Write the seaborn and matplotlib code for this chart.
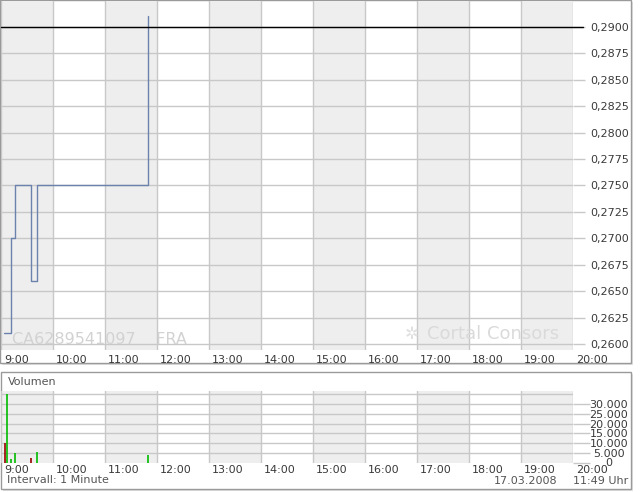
import matplotlib
matplotlib.use("Agg")
import matplotlib.pyplot as plt
import matplotlib.transforms as mtransforms
from matplotlib.patches import Rectangle
import seaborn as sns
import pandas as pd

# ---- data ----
price_times = ["09:04", "09:12", "09:16", "09:35", "09:42", "11:50"]
price_values = [0.2610, 0.2700, 0.2750, 0.2660, 0.2750, 0.2910]
ref_price = 0.2900

vol_times = ["09:05", "09:07", "09:12", "09:16", "09:35", "09:42", "11:50"]
vol_values = [10000, 35000, 1800, 4900, 2300, 5200, 3850]
vol_dir = ["down", "up", "up", "up", "down", "up", "up"]

hour_ticks = list(range(9, 21))
hour_labels = [f"{h}:00" for h in hour_ticks]
price_ticks = [0.2600, 0.2625, 0.2650, 0.2675, 0.2700, 0.2725, 0.2750,
               0.2775, 0.2800, 0.2825, 0.2850, 0.2875, 0.2900]
vol_ticks = [0, 5000, 10000, 15000, 20000, 25000, 30000]
vol_grid = [5000, 10000, 15000, 20000, 25000, 30000, 35000]


def to_hours(t):
    h, m = t.split(":")
    return int(h) + int(m) / 60.0


def fmt_de(v, dec):
    if dec == 0:
        return f"{int(v):,}".replace(",", ".")
    return f"{v:.{dec}f}".replace(".", ",")


price_df = pd.DataFrame({"t": [to_hours(t) for t in price_times], "p": price_values})
vol_df = pd.DataFrame({"t": [to_hours(t) for t in vol_times], "v": vol_values, "d": vol_dir})

sns.set_theme(style="white")
plt.rcParams["font.family"] = ["DejaVu Sans"]

W, H = 640, 492
fig = plt.figure(figsize=(W / 100, H / 100), dpi=100)
fig.patch.set_facecolor("white")

TXT = "#3a3a3a"
GRID = "#c8c8c8"
SHADE = "#eeeeee"


def fx(px):
    return px / W


def fy(py):
    return 1 - py / H


# panel boxes with shadow
for (x0, y0, x1, y1) in [(0, 0, 631, 363), (1, 372, 631, 489)]:
    fig.patches.append(Rectangle((fx(x0 + 2), fy(y1 + 2)), fx(x1 - x0), (y1 - y0) / H,
                                 transform=fig.transFigure, facecolor="#e2e2e2",
                                 edgecolor="none", zorder=-3))
    fig.patches.append(Rectangle((fx(x0), fy(y1)), fx(x1 - x0), (y1 - y0) / H,
                                 transform=fig.transFigure, facecolor="white",
                                 edgecolor="#9a9a9a", linewidth=1.0, zorder=-2))

# ---- main price axes ----
ax = fig.add_axes([fx(1), fy(350), fx(572), (350 - 1) / H])
ax.set_facecolor("none")
ax.set_xlim(9, 20)
ax.set_ylim(0.259432, 0.292460)
for h in range(9, 20, 2):
    ax.axvspan(h, h + 1, color=SHADE, zorder=0, lw=0)
for h in hour_ticks:
    ax.axvline(h, color=GRID, lw=1, zorder=1)
for p in price_ticks:
    ax.axhline(p, color=GRID, lw=1, zorder=1)

ax.text(0.02, 0.029, "CA6289541097    FRA", transform=ax.transAxes, fontsize=11.5,
        color="#d2d2d2", ha="left", va="center", zorder=1.5)
ax.text(0.745, 0.045, "Cortal Consors", transform=ax.transAxes, fontsize=13,
        color="#dadada", ha="left", va="center", zorder=1.5)
ax.text(0.705, 0.045, "✲", transform=ax.transAxes, fontsize=12,
        color="#e0e0e0", ha="left", va="center", zorder=1.5)

sns.lineplot(data=price_df, x="t", y="p", drawstyle="steps-post", color="#6b82ad",
             linewidth=1.0, ax=ax, zorder=3, legend=False)
ax.plot([9, 20.2], [ref_price, ref_price], color="black", lw=1.0, zorder=4, clip_on=False)

for s in ax.spines.values():
    s.set_visible(False)
ax.set_xlabel("")
ax.set_ylabel("")
ax.set_xticks(hour_ticks)
ax.set_xticklabels(hour_labels)
ax.yaxis.tick_right()
ax.set_yticks(price_ticks)
ax.set_yticklabels([fmt_de(p, 4) for p in price_ticks])
ax.tick_params(axis="x", direction="out", length=2, width=1, color=GRID,
               labelsize=8, labelcolor=TXT, pad=1.5)
ax.tick_params(axis="y", direction="out", length=8.6, width=1, color=GRID,
               labelsize=8, labelcolor=TXT, pad=3.6)
off = mtransforms.ScaledTranslation(3 / 100, 0, fig.dpi_scale_trans)
for lab in ax.get_xticklabels():
    lab.set_ha("left")
    lab.set_transform(lab.get_transform() + off)

# ---- volume axes ----
vx = fig.add_axes([fx(1), fy(462.5), fx(572), (462.5 - 391) / H])
vx.set_facecolor("none")
vx.set_xlim(9, 20)
vx.set_ylim(0, 36694)
for h in range(9, 20, 2):
    vx.axvspan(h, h + 1, color=SHADE, zorder=0, lw=0)
for h in hour_ticks:
    vx.axvline(h, color=GRID, lw=1, zorder=1)
for g in vol_grid:
    vx.axhline(g, color=GRID, lw=1, zorder=1)
colors = {"up": "#00bb00", "down": "#990000"}
for d, sub in vol_df.groupby("d"):
    vx.vlines(sub["t"], 0, sub["v"], color=colors[d], lw=1.2, zorder=3)

for s in vx.spines.values():
    s.set_visible(False)
vx.set_xticks(hour_ticks)
vx.set_xticklabels(hour_labels)
vx.yaxis.tick_right()
vx.set_yticks(vol_ticks)
vx.set_yticklabels([fmt_de(v, 0) for v in vol_ticks])
vx.tick_params(axis="x", direction="out", length=0, labelsize=8, labelcolor=TXT, pad=2)
vx.tick_params(axis="y", direction="out", length=12.2, width=1, color=GRID,
               labelsize=8, labelcolor=TXT, pad=13.5)
for lab in vx.get_yticklabels():
    lab.set_ha("center")
for lab in vx.get_xticklabels():
    lab.set_ha("left")
    lab.set_transform(lab.get_transform() + off)

fig.text(fx(8), fy(382), "Volumen", fontsize=8, color="#555555", ha="left", va="center")
fig.text(fx(7), fy(480), "Intervall: 1 Minute", fontsize=8, color="#555555",
         ha="left", va="center")
fig.text(fx(557), fy(481), "17.03.2008", fontsize=8, color="#555555", ha="right", va="center")
fig.text(fx(628), fy(481), "11:49 Uhr", fontsize=8, color="#555555", ha="right", va="center")

fig.savefig("out.png", dpi=100, facecolor="white")
